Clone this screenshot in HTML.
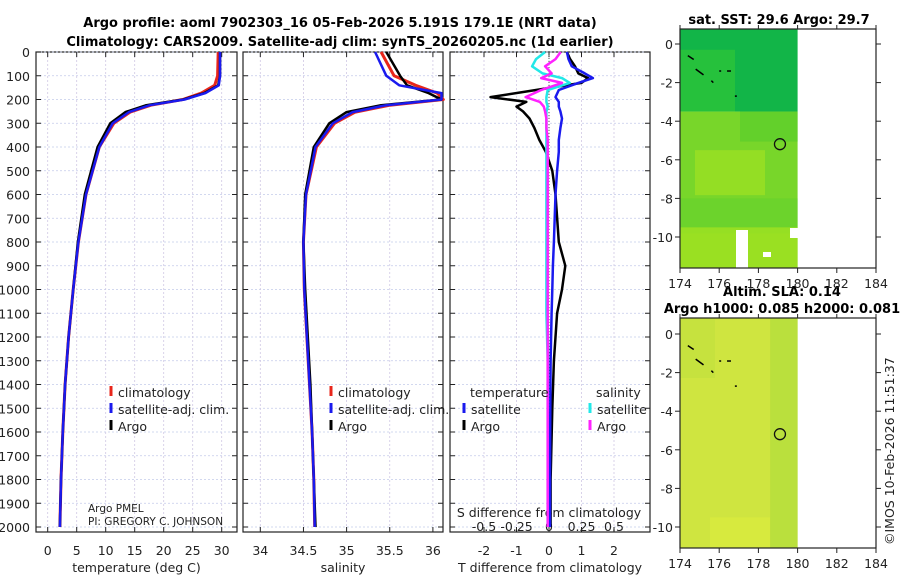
<!DOCTYPE html>
<html><head><meta charset="utf-8"><style>
body{margin:0;background:#fff}
svg{font-family:"DejaVu Sans","Liberation Sans",sans-serif;display:block}
.t{font-size:12.5px;fill:#222}
.b{font-weight:bold;font-size:13px;fill:#000}
</style></head><body>
<svg id="c" width="900" height="580" xmlns="http://www.w3.org/2000/svg">
<text class="b" x="340" y="27" text-anchor="middle">Argo profile: aoml 7902303_16 05-Feb-2026 5.191S 179.1E (NRT data)</text>
<text class="b" x="340" y="46" text-anchor="middle">Climatology: CARS2009. Satellite-adj clim: synTS_20260205.nc (1d earlier)</text>
<text class="b" x="779" y="24" text-anchor="middle">sat. SST: 29.6 Argo: 29.7</text>
<text class="b" x="782" y="296" text-anchor="middle">Altim. SLA: 0.14</text>
<text class="b" x="782" y="313" text-anchor="middle">Argo h1000: 0.085 h2000: 0.081</text>
<text class="t" x="0" y="0" transform="translate(894,545) rotate(-90)">©IMOS 10-Feb-2026 11:51:37</text>
<g id="g"></g>
</svg>
<script>
// ---- data ----
const depths = [0,100,140,173,200,224,253,300,400,600,800,1000,1200,1400,1600,1800,2000];
const climT  = [29.4,29.3,28.8,26.5,23.3,17.8,14.2,11.4,8.9,6.6,5.3,4.4,3.6,3.0,2.6,2.3,2.1];
const satT   = [29.7,29.7,29.5,27.2,23.6,17.6,14.0,11.2,8.9,6.6,5.3,4.4,3.6,3.0,2.6,2.3,2.1];
const argoT  = [29.7,29.7,29.4,27.0,23.4,17.0,13.4,10.8,8.6,6.4,5.2,4.4,3.6,3.0,2.6,2.3,2.1];
const climS  = [35.40,35.55,35.80,36.05,36.12,35.50,35.10,34.86,34.65,34.53,34.50,34.51,34.54,34.57,34.60,34.62,34.63];
const satS   = [35.33,35.46,35.61,36.10,36.10,35.46,35.07,34.84,34.64,34.53,34.50,34.51,34.54,34.57,34.60,34.62,34.63];
const argoS  = [35.46,35.62,35.70,35.95,36.10,35.40,35.00,34.80,34.62,34.52,34.50,34.52,34.55,34.58,34.60,34.62,34.64];
const dDepths= [0,30,60,90,110,130,160,190,210,230,250,280,320,370,420,500,600,800,900,1000,1100,1300,1500,1800,2000];
const dArgoT = [0.55,0.65,0.8,0.9,1.2,1.0,-0.4,-1.8,-0.7,-1.0,-0.8,-0.6,-0.45,-0.3,-0.1,0.1,0.2,0.3,0.5,0.4,0.25,0.15,0.1,0.05,0.05];
const dSatT  = [0.55,0.6,0.7,1.1,1.35,0.9,0.3,0.2,0.3,0.3,0.35,0.4,0.35,0.3,0.3,0.25,0.2,0.15,0.12,0.1,0.08,0.05,0.04,0.03,0.03];
const dSatS  = [-0.03,-0.1,-0.13,-0.05,0.1,0.16,-0.01,-0.02,-0.02,-0.01,-0.02,-0.02,-0.02,-0.02,-0.02,-0.02,-0.02,-0.02,-0.02,-0.02,-0.02,-0.01,-0.01,-0.01,-0.01];
const dArgoS = [0.09,0.05,-0.03,0.02,-0.06,0.1,-0.06,-0.18,-0.07,-0.04,-0.03,-0.02,-0.02,-0.01,-0.01,-0.01,-0.01,-0.01,-0.01,-0.01,-0.01,-0.01,-0.01,-0.01,-0.01];
const depthTicks=[0,100,200,300,400,500,600,700,800,900,1000,1100,1200,1300,1400,1500,1600,1700,1800,1900,2000];
const tTicks=[0,5,10,15,20,25,30], sTicks=[34,34.5,35,35.5,36];
const dTTicks=[-2,-1,0,1,2], dSTicks=[-0.5,-0.25,0,0.25,0.5], dSLabels=['-0.5','-0.25','0','0.25','0.5'];
const lonTicks=[174,176,178,180,182,184], latTicks=[0,-2,-4,-6,-8,-10];

const NS='http://www.w3.org/2000/svg', G=document.getElementById('g');
function mk(tag,at,txt){const e=document.createElementNS(NS,tag);for(const k in at)e.setAttribute(k,at[k]);if(txt!==undefined)e.textContent=txt;G.appendChild(e);return e;}
const yD=d=>52+d*0.2375, Y0=52, Y1=532;
function panel(x0,x1,name,xs,ticks,labels,xlabel){
  const r=mk('rect',{x:x0,y:Y0,width:x1-x0,height:Y1-Y0,fill:'#fff',stroke:'#222','stroke-width':1.2});
  
  
  depthTicks.forEach(d=>{const l=mk('line',{x1:x0,x2:x1,y1:yD(d),y2:yD(d),stroke:'#c4cbea','stroke-dasharray':'2,2','stroke-width':0.8});
    
    mk('line',{x1:x0,x2:x0+5,y1:yD(d),y2:yD(d),stroke:'#222'});mk('line',{x1:x1-5,x2:x1,y1:yD(d),y2:yD(d),stroke:'#222'});});
  ticks.forEach((t,i)=>{const x=xs(t);const l=mk('line',{x1:x,x2:x,y1:Y0,y2:Y1,stroke:'#d0c8e4','stroke-dasharray':'2,2','stroke-width':0.8});
    
    mk('line',{x1:x,x2:x,y1:Y1,y2:Y1-5,stroke:'#222'});mk('line',{x1:x,x2:x,y1:Y0,y2:Y0+5,stroke:'#222'});
    if(labels){const tx=mk('text',{class:'t',x:x,y:555,'text-anchor':'middle'},labels[i]);
    }});
  const xl=mk('text',{class:'t',x:(x0+x1)/2,y:572,'text-anchor':'middle'},xlabel);
  
}
function line(xs,vals,ds,col,w,name){
  const p=mk('polyline',{points:vals.map((v,i)=>xs(v).toFixed(1)+','+yD(ds[i]).toFixed(1)).join(' '),fill:'none',stroke:col,'stroke-width':w,'stroke-linejoin':'round'});
  
}
// panel 1
const xT=t=>47.7+t*5.8;
panel(36,237,'temperature-panel',xT,tTicks,tTicks.map(String),'temperature (deg C)');
depthTicks.forEach(d=>{const t=mk('text',{class:'t',x:30,y:yD(d)+5,'text-anchor':'end'},String(d));
  });
line(xT,climT,depths,'#e8261b',3,'temp-climatology-line');
line(xT,argoT,depths,'#000',2.5,'temp-argo-line');
line(xT,satT,depths,'#1a1aee',2.5,'temp-satellite-line');
// panel 2
const xS=s=>260.3+(s-34)*86.3;
panel(243,443,'salinity-panel',xS,sTicks,sTicks.map(String),'salinity');
line(xS,climS,depths,'#e8261b',3,'sal-climatology-line');
line(xS,argoS,depths,'#000',2.5,'sal-argo-line');
line(xS,satS,depths,'#1a1aee',2.5,'sal-satellite-line');
// panel 3
const xdT=t=>549+t*32.5, xdS=s=>549+s*130;
panel(450,650,'difference-panel',xdT,dTTicks,dTTicks.map(String),'T difference from climatology');
dSTicks.forEach((s,i)=>{const t=mk('text',{class:'t',x:xdS(s),y:531,'text-anchor':'middle'},dSLabels[i]);
  });
const st=mk('text',{class:'t',x:549,y:517,'text-anchor':'middle'},'S difference from climatology');

mk('line',{x1:549,x2:549,y1:Y0,y2:Y1,stroke:'#555','stroke-dasharray':'1,2'});
line(xdT,dArgoT,dDepths,'#000',2.5,'tdiff-argo-line');
line(xdT,dSatT,dDepths,'#1a1aee',2.5,'tdiff-satellite-line');
line(xdS,dSatS,dDepths,'#22e8e8',2.5,'sdiff-satellite-line');
line(xdS,dArgoS,dDepths,'#ff22ff',2.5,'sdiff-argo-line');
// legends
function leg(x,y,col,txt,name){const m=mk('line',{x1:x,x2:x,y1:y-11,y2:y-1,stroke:col,'stroke-width':3});
  
  const t=mk('text',{class:'t',x:x+7,y:y},txt);}
leg(111,397,'#e8261b','climatology','legend-climatology');leg(111,414,'#1a1aee','satellite-adj. clim.','legend-satellite');leg(111,431,'#000','Argo','legend-argo');
leg(331,397,'#e8261b','climatology','legend2-climatology');leg(331,414,'#1a1aee','satellite-adj. clim.','legend2-satellite');leg(331,431,'#000','Argo','legend2-argo');
const l1=mk('text',{class:'t',x:470,y:397},'temperature');
const l2=mk('text',{class:'t',x:596,y:397},'salinity');
leg(464,414,'#1a1aee','satellite','legend3-t-satellite');leg(464,431,'#000','Argo','legend3-t-argo');
leg(590,414,'#22e8e8','satellite','legend3-s-satellite');leg(590,431,'#ff22ff','Argo','legend3-s-argo');
const pi1=mk('text',{x:88,y:512,'font-size':'10.5px',fill:'#222'},'Argo PMEL');
const pi2=mk('text',{x:88,y:525,'font-size':'10.5px',fill:'#222'},'PI: GREGORY C. JOHNSON');
// maps
function map(top,bot,lat0y,name,kind){
  const lon=l=>680+(l-174)*19.6, lat=v=>lat0y-v*19.3;
  const fx0=680,fx1=lon(180);
  if(kind==='sst'){
    const gr=mk('rect',{x:fx0,y:top,width:fx1-fx0,height:lat(-3.5)-top,fill:'#12b548'});
    mk('rect',{x:fx0,y:lat(-0.3),width:55,height:lat(-3.5)-lat(-0.3),fill:'#2cc43a',opacity:0.8});
    const g2=mk('rect',{x:fx0,y:lat(-3.5),width:fx1-fx0,height:bot-lat(-3.5),fill:'#78d62a'});
    mk('rect',{x:fx0+60,y:lat(-3.5),width:fx1-fx0-60,height:30,fill:'#5acd2c',opacity:0.7});
    mk('rect',{x:fx0+15,y:lat(-5.5),width:70,height:45,fill:'#a6e222',opacity:0.6});
    mk('rect',{x:fx0,y:lat(-8),width:fx1-fx0,height:35,fill:'#60cf2e',opacity:0.5});
    mk('rect',{x:fx0,y:lat(-9.5),width:fx1-fx0,height:bot-lat(-9.5),fill:'#a8e420',opacity:0.7});
    mk('rect',{x:736,y:230,width:12,height:38,fill:'#fff'});mk('rect',{x:790,y:228,width:8,height:10,fill:'#fff'});mk('rect',{x:763,y:252,width:8,height:5,fill:'#fff'});
  } else {
    const gr=mk('rect',{x:fx0,y:top,width:fx1-fx0,height:bot-top,fill:'#cfe540'});
    mk('rect',{x:lon(178.6),y:top,width:lon(180)-lon(178.6),height:bot-top,fill:'#b4de3c',opacity:0.8});
    mk('rect',{x:fx0,y:top,width:35,height:60,fill:'#bfe03e',opacity:0.6});
    mk('rect',{x:fx0+30,y:lat(-9.5),width:60,height:30,fill:'#dcec3e',opacity:0.6});
  }
  const fr=mk('rect',{x:680,y:top,width:196,height:bot-top,fill:'none',stroke:'#222','stroke-width':1.2});
  
  lonTicks.forEach(l=>{mk('line',{x1:lon(l),x2:lon(l),y1:bot,y2:bot+5,stroke:'#222'});mk('line',{x1:lon(l),x2:lon(l),y1:top,y2:top-4,stroke:'#222'});
    const t=mk('text',{class:'t',x:lon(l),y:bot+20,'text-anchor':'middle'},String(l));});
  latTicks.forEach(v=>{mk('line',{x1:675,x2:680,y1:lat(v),y2:lat(v),stroke:'#222'});mk('line',{x1:876,x2:881,y1:lat(v),y2:lat(v),stroke:'#222'});
    const t=mk('text',{class:'t',x:673,y:lat(v)+5,'text-anchor':'end'},String(v));});
  const c=mk('circle',{cx:lon(179.1),cy:lat(-5.19),r:5.5,fill:'none',stroke:'#111','stroke-width':1.3});
  
  [[174.4,-0.6,174.7,-0.8],[174.8,-1.3,175.2,-1.6],[175.6,-1.9,175.7,-2],[176,-1.4,176.1,-1.4],[176.4,-1.4,176.6,-1.4],[176.8,-2.7,176.9,-2.7]].forEach(s=>mk('line',{x1:lon(s[0]),y1:lat(s[1]),x2:lon(s[2]),y2:lat(s[3]),stroke:'#000','stroke-width':1.5}));
}
map(29,268,44,'sst-map','sst');
map(318,548,334,'sla-map','sla');
</script>
</body></html>
